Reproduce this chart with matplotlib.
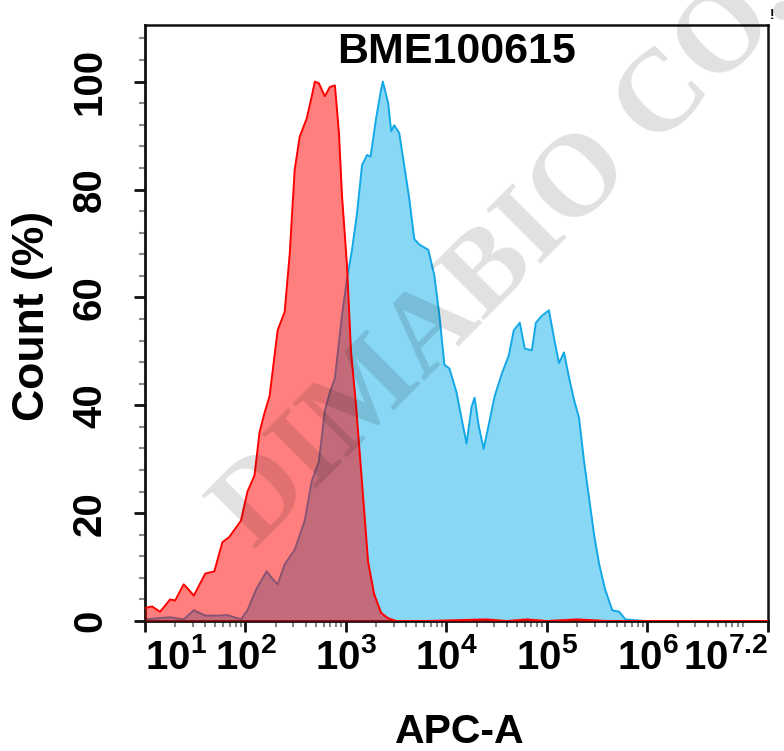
import numpy as np
import matplotlib
matplotlib.use("Agg")
import matplotlib.pyplot as plt
from matplotlib.ticker import FixedLocator, LogLocator, MultipleLocator, NullFormatter

plt.rcParams['font.family'] = ['Liberation Sans', 'DejaVu Sans']
plt.rcParams['font.weight'] = 'bold'
plt.rcParams['mathtext.fontset'] = 'custom'
plt.rcParams['mathtext.rm'] = 'Liberation Sans:bold'
plt.rcParams['mathtext.bf'] = 'Liberation Sans:bold'
plt.rcParams['mathtext.it'] = 'Liberation Sans:bold'

# ---- data (log10 of APC-A intensity, % of max count) ----
red_log = [1.00, 1.07, 1.15, 1.25, 1.30, 1.385, 1.435, 1.486, 1.60, 1.69,
           1.77, 1.84, 1.955, 2.02, 2.09, 2.14, 2.19, 2.24, 2.32, 2.39,
           2.44, 2.49, 2.54, 2.61, 2.66, 2.69, 2.73, 2.79, 2.84, 2.89,
           2.93, 2.96, 3.01, 3.05, 3.10, 3.15, 3.22, 3.28, 3.35, 3.42,
           3.50, 3.8, 4.4, 4.6, 4.8, 5.0, 5.3, 5.6, 6.0, 7.2]
red_pct = [2.4, 2.7, 1.7, 4.0, 3.8, 6.8, 5.8, 4.7, 8.8, 9.2,
           14.6, 15.6, 18.6, 24.0, 27.0, 35.0, 38.6, 41.7, 53.9, 57.3,
           68.0, 83.7, 89.8, 93.2, 97.3, 100, 99.7, 97.3, 99.0, 99.3,
           90.5, 79.0, 66.0, 50.0, 40.0, 28.0, 11.0, 5.0, 1.5, 0.5,
           0.0, 0, 0.3, 0, 0.3, 0, 0.3, 0, 0, 0]

blue_log = [1.00, 1.25, 1.385, 1.486, 1.60, 1.72, 1.82, 1.955, 2.02, 2.105,
            2.21, 2.27, 2.32, 2.39, 2.49, 2.59, 2.66, 2.73, 2.79, 2.84,
            2.89, 2.96, 3.01, 3.06, 3.11, 3.16, 3.21, 3.245, 3.30, 3.35,
            3.367, 3.42, 3.45, 3.48, 3.53, 3.58, 3.63, 3.68, 3.73, 3.82,
            3.88, 3.93, 3.98, 4.03, 4.10, 4.15, 4.20, 4.25, 4.28, 4.32,
            4.37, 4.42, 4.48, 4.55, 4.62, 4.67, 4.73, 4.78, 4.85, 4.89,
            4.95, 5.02, 5.07, 5.12, 5.17, 5.22, 5.27, 5.32, 5.37, 5.42,
            5.47, 5.52, 5.58, 5.65, 5.72, 5.78, 5.98, 7.2]
blue_pct = [0.3, 0.7, 0.3, 2.0, 1.0, 1.0, 1.1, 0.3, 2.0, 5.8,
            9.2, 7.8, 6.8, 10.5, 13.2, 18.6, 26.0, 29.5, 39.0, 42.4,
            45.0, 56.6, 63.4, 68.8, 75.6, 84.5, 86.4, 86.1, 93.2, 98.6,
            100, 96, 90.8, 91.9, 90.5, 84.4, 78.3, 70.8, 69.8, 68.8,
            64.0, 56.6, 47.5, 46.8, 42.4, 37.6, 32.9, 39.7, 41.4, 36.3,
            31.9, 36.3, 41.7, 45.8, 49.2, 53.9, 55.3, 50.5, 50.2, 55.3,
            56.6, 57.6, 52.5, 47.8, 49.8, 45.1, 41.0, 37.6, 29.5, 22.7,
            15.9, 10.5, 5.8, 2.0, 1.7, 0.3, 0, 0]

x_tick_exps = [1, 2, 3, 4, 5, 6, 7.2]
x_tick_labels = [r'$\mathbf{10^{1}}$', r'$\mathbf{10^{2}}$', r'$\mathbf{10^{3}}$',
                 r'$\mathbf{10^{4}}$', r'$\mathbf{10^{5}}$', r'$\mathbf{10^{6}}$',
                 r'$\mathbf{10^{7.2}}$']
y_ticks = [0, 20, 40, 60, 80, 100]
title = "BME100615"
xlabel = "APC-A"
ylabel = "Count (%)"
watermark = "DIMABIO CO., LTD"

W, H = 784, 751
fig = plt.figure(figsize=(W / 100, H / 100), dpi=100)
ax = fig.add_axes([145 / W, 1 - 621 / H, (768 - 145) / W, (621 - 25) / H])

rx = 10 ** np.array(red_log)
bx = 10 ** np.array(blue_log)

ax.fill_between(bx, blue_pct, 0, color='#87D7F5', lw=0, zorder=1)
ax.plot(bx, blue_pct, color='#12A8E6', lw=1.4, zorder=2)
ax.fill_between(rx, red_pct, 0, color='#FF0000', alpha=0.5, lw=0, zorder=3)
ax.plot(rx, red_pct, color='#FF0000', lw=1.4, zorder=4)

ax.set_xscale('log')
ax.set_xlim(10 ** 1, 10 ** 7.2)
ax.set_ylim(0, 110.5)

ax.xaxis.set_major_locator(FixedLocator([10 ** e for e in x_tick_exps]))
ax.set_xticklabels(x_tick_labels)
ax.xaxis.set_minor_locator(LogLocator(base=10, subs=np.arange(2, 10), numticks=20))
ax.xaxis.set_minor_formatter(NullFormatter())
ax.yaxis.set_major_locator(FixedLocator(y_ticks))
ax.yaxis.set_minor_locator(MultipleLocator(4))

for s in ax.spines.values():
    s.set_linewidth(2)
    s.set_color('#111111')
ax.spines['top'].set_linewidth(1.8)
ax.spines['right'].set_linewidth(1.8)

ax.tick_params(axis='both', which='major', direction='out', length=8, width=2,
               color='#111111', labelsize=29)
ax.tick_params(axis='both', which='minor', direction='out', length=4, width=1.5,
               color='#888888')
ax.tick_params(axis='x', which='major', pad=4)
ax.tick_params(axis='y', which='major', pad=18)

for lab in ax.get_yticklabels():
    lab.set_rotation(90)
    lab.set_va('center')
    lab.set_fontweight('bold')

xl = ax.get_xticklabels()
xl[0].set_ha('left')
xl[-1].set_ha('right')

fig.text(457 / W, 1 - 52 / H, title, ha='center', va='center', fontsize=31,
         fontweight='bold')
fig.text(460 / W, 1 - 732 / H, xlabel, ha='center', va='center', fontsize=29.5,
         fontweight='bold')
fig.text(33 / W, 1 - 316 / H, ylabel, ha='center', va='center', fontsize=32,
         fontweight='bold', rotation=90)
fig.text(772 / W, 1 - 15 / H, "!", ha='center', va='center', fontsize=10,
         fontweight='bold')

fig.text(254 / W, 1 - 550 / H, watermark, rotation=45, rotation_mode='anchor',
         ha='left', va='baseline', fontsize=84, family=['Liberation Serif', 'DejaVu Serif'],
         fontweight='bold', color='black', alpha=0.12, zorder=10)

fig.savefig('out.png', dpi=100)
